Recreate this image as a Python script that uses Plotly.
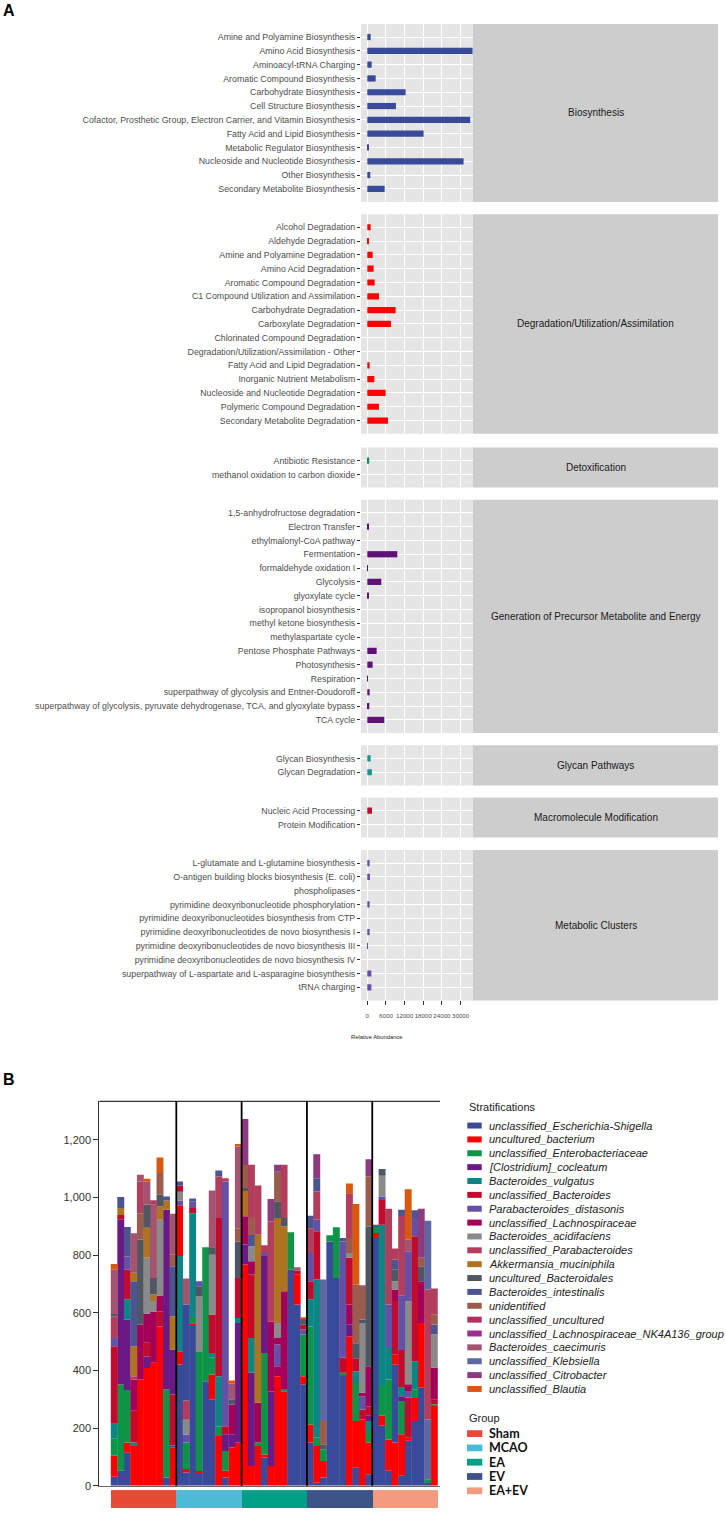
import plotly.graph_objects as go

W, H = 726, 1518


def fx(px):
    return px / W


def fy(py):
    return 1 - py / H


# ---------------- Panel A data ----------------
bio_names = ["Amine and Polyamine Biosynthesis", "Amino Acid Biosynthesis", "Aminoacyl-tRNA Charging",
             "Aromatic Compound Biosynthesis", "Carbohydrate Biosynthesis", "Cell Structure Biosynthesis",
             "Cofactor, Prosthetic Group, Electron Carrier, and Vitamin Biosynthesis",
             "Fatty Acid and Lipid Biosynthesis", "Metabolic Regulator Biosynthesis",
             "Nucleoside and Nucleotide Biosynthesis", "Other Biosynthesis", "Secondary Metabolite Biosynthesis"]
bio_vals = [1070, 33850, 1400, 2680, 12320, 9210, 33100, 18100, 540, 30960, 960, 5570]

deg_names = ["Alcohol Degradation", "Aldehyde Degradation", "Amine and Polyamine Degradation",
             "Amino Acid Degradation", "Aromatic Compound Degradation", "C1 Compound Utilization and Assimilation",
             "Carbohydrate Degradation", "Carboxylate Degradation", "Chlorinated Compound Degradation",
             "Degradation/Utilization/Assimilation - Other", "Fatty Acid and Lipid Degradation",
             "Inorganic Nutrient Metabolism", "Nucleoside and Nucleotide Degradation",
             "Polymeric Compound Degradation", "Secondary Metabolite Degradation"]
deg_vals = [1070, 320, 1710, 2030, 2360, 3750, 9100, 7600, 0, 0, 750, 2250, 5890, 3750, 6640]

detox_names = ["Antibiotic Resistance", "methanol oxidation to carbon dioxide"]
detox_vals = [600, 0]

gen_names = ["1,5-anhydrofructose degradation", "Electron Transfer", "ethylmalonyl-CoA pathway", "Fermentation",
             "formaldehyde oxidation I", "Glycolysis", "glyoxylate cycle", "isopropanol biosynthesis",
             "methyl ketone biosynthesis", "methylaspartate cycle", "Pentose Phosphate Pathways",
             "Photosynthesis", "Respiration", "superpathway of glycolysis and Entner-Doudoroff",
             "superpathway of glycolysis, pyruvate dehydrogenase, TCA, and glyoxylate bypass", "TCA cycle"]
gen_vals = [0, 280, 0, 9640, 100, 4500, 540, 0, 0, 0, 3000, 1710, 220, 750, 640, 5460]

glycan_names = ["Glycan Biosynthesis", "Glycan Degradation"]
glycan_vals = [1070, 1480]

macro_names = ["Nucleic Acid Processing", "Protein Modification"]
macro_vals = [1500, 0]

metab_names = ["L-glutamate and L-glutamine biosynthesis", "O-antigen building blocks biosynthesis (E. coli)",
               "phospholipases", "pyrimidine deoxyribonucleotide phosphorylation",
               "pyrimidine deoxyribonucleotides biosynthesis from CTP",
               "pyrimidine deoxyribonucleotides de novo biosynthesis I",
               "pyrimidine deoxyribonucleotides de novo biosynthesis III",
               "pyrimidine deoxyribonucleotides de novo biosynthesis IV",
               "superpathway of L-aspartate and L-asparagine biosynthesis", "tRNA charging"]
metab_vals = [750, 850, 0, 750, 0, 750, 150, 0, 1300, 1300]

facet_labels = ["Biosynthesis", "Degradation/Utilization/Assimilation", "Detoxification",
                "Generation of Precursor Metabolite and Energy", "Glycan Pathways",
                "Macromolecule Modification", "Metabolic Clusters"]
x_ticks = [0, 6000, 12000, 18000, 24000, 30000]

# ---------------- Panel B data ----------------
species = ["unclassified_Escherichia-Shigella", "uncultured_bacterium", "unclassified_Enterobacteriaceae",
           "[Clostridium]_cocleatum", "Bacteroides_vulgatus", "unclassified_Bacteroides",
           "Parabacteroides_distasonis", "unclassified_Lachnospiraceae", "Bacteroides_acidifaciens",
           "unclassified_Parabacteroides", "Akkermansia_muciniphila", "uncultured_Bacteroidales",
           "Bacteroides_intestinalis", "unidentified", "unclassified_uncultured",
           "unclassified_Lachnospiraceae_NK4A136_group", "Bacteroides_caecimuris", "unclassified_Klebsiella",
           "unclassified_Citrobacter", "unclassified_Blautia"]

groups = ["Sham", "MCAO", "EA", "EV", "EA+EV"]

# each sample: list of (species index, abundance), stacked bottom -> top
sham_samples = [
    [(0, 31), (1, 73), (2, 61), (4, 50), (5, 269), (6, 29), (9, 75), (11, 8), (16, 154), (19, 20)],
    [(0, 52), (2, 300), (3, 571), (5, 17), (10, 24), (12, 38)],
    [(0, 115), (1, 35), (2, 182), (3, 245), (4, 70), (5, 103), (6, 46), (12, 102)],
    [(1, 138), (4, 12), (5, 110), (7, 109), (9, 11), (10, 104), (12, 226), (10, 29), (16, 137)],
    [(1, 369), (7, 191), (11, 294), (13, 92), (9, 110), (16, 23)],
    [(1, 409), (3, 40), (5, 47), (7, 102), (8, 193), (10, 104), (11, 80), (16, 80), (19, 10)],
    [(1, 427), (7, 178), (8, 36), (10, 23), (11, 57), (16, 254), (9, 16)],
    [(1, 553), (5, 52), (7, 55), (8, 263), (10, 46), (11, 41), (13, 75), (19, 54)],
    [(0, 29), (2, 305), (3, 624), (10, 32), (12, 14)],
    [(1, 132), (0, 8), (5, 177), (3, 156), (10, 115), (12, 174), (13, 40), (16, 142)],
]
mcao_samples = [
    [(0, 421), (1, 46), (4, 330), (1, 176), (6, 17), (8, 30), (5, 22), (12, 14)],
    [(0, 46), (1, 12), (2, 92), (6, 28), (8, 51), (9, 67), (0, 333), (16, 90)],
    [(0, 558), (1, 5), (2, 23), (4, 360), (5, 18), (6, 23), (12, 10)],
    [(0, 46), (1, 5), (2, 416), (8, 190), (11, 35), (6, 18)],
    [(0, 363), (2, 465)],
    [(0, 300), (1, 86), (2, 58), (4, 17), (5, 133), (8, 208), (11, 23), (16, 200)],
    [(1, 173), (2, 34), (4, 173), (5, 549), (9, 144), (12, 21)],
    [(0, 29), (1, 23), (2, 69), (3, 58), (5, 28), (6, 849), (9, 11)],
    [(1, 133), (3, 46), (7, 103), (11, 18), (16, 54), (19, 11)],
    [(1, 150), (3, 415), (4, 17), (5, 139), (11, 127), (13, 46), (16, 283), (19, 9)],
]
ea_samples = [
    [(1, 768), (3, 69), (7, 98), (10, 88), (11, 10), (13, 80), (18, 160)],
    [(1, 69), (3, 323), (4, 121), (5, 220), (7, 46), (8, 52), (12, 39), (13, 59), (9, 185)],
    [(1, 138), (2, 12), (7, 138), (10, 583), (9, 171)],
    [(0, 98), (1, 11), (2, 352), (3, 336), (6, 11), (9, 27)],
    [(1, 69), (3, 258), (7, 243), (9, 347), (18, 78)],
    [(1, 380), (7, 35), (6, 75), (7, 23), (8, 52), (10, 364), (11, 58), (13, 103), (18, 24)],
    [(1, 328), (2, 6), (7, 341), (10, 225), (11, 29), (9, 185)],
    [(0, 750), (2, 130)],
    [(0, 629), (1, 105), (5, 12), (16, 12)],
    [(0, 352), (1, 28), (2, 144), (6, 18), (5, 17), (11, 21), (19, 5)],
]
ev_samples = [
    [(0, 150), (1, 63), (2, 340), (4, 94), (5, 63), (6, 98), (9, 86), (12, 43)],
    [(0, 11), (1, 127), (2, 29), (4, 549), (5, 167), (6, 40), (9, 98), (12, 46), (18, 83)],
    [(0, 29), (1, 57), (2, 41), (11, 17), (13, 81), (17, 491)],
    [(0, 848), (2, 21)],
    [(0, 721), (2, 176)],
    [(0, 386), (2, 6), (5, 52), (6, 404), (12, 12)],
    [(1, 519), (3, 40), (7, 70), (5, 162), (8, 17), (13, 52), (9, 155), (19, 34)],
    [(0, 63), (1, 162), (2, 132), (4, 40), (5, 46), (11, 52), (13, 203), (19, 280)],
    [(1, 230), (5, 35), (6, 46), (7, 12), (8, 242), (11, 12), (13, 113), (16, 6)],
    [(0, 40), (1, 110), (2, 40), (4, 35), (3, 20), (5, 30), (7, 140), (11, 485), (13, 173), (18, 60)],
]
eaev_samples = [
    [(0, 860), (1, 17), (2, 23), (12, 6)],
    [(0, 208), (1, 35), (2, 103), (4, 560), (5, 86), (6, 12), (8, 72), (11, 23)],
    [(0, 52), (1, 109), (2, 208), (4, 109), (6, 151), (9, 332)],
    [(1, 150), (0, 270), (1, 35), (5, 186), (7, 40), (8, 29), (11, 40), (12, 35), (9, 38)],
    [(0, 35), (1, 144), (2, 115), (3, 17), (4, 29), (5, 131), (6, 190), (9, 275), (12, 22)],
    [(0, 156), (1, 11), (5, 139), (6, 23), (7, 23), (8, 288), (6, 174), (16, 40), (19, 175)],
    [(0, 225), (1, 80), (2, 30), (4, 97), (5, 434), (6, 63), (12, 27)],
    [(0, 340), (1, 225), (7, 145), (11, 52), (13, 29), (18, 170)],
    [(0, 10), (2, 13), (17, 207), (9, 451), (17, 239)],
    [(1, 277), (2, 6), (5, 17), (7, 110), (8, 115), (12, 35), (13, 35), (9, 90)],
]
y_ticks_b = [0, 200, 400, 600, 800, 1000, 1200]

# ---------------- styles ----------------
species_colors = ["#3A4A9B", "#FF0000", "#0E9447", "#6A1A84", "#0D8585", "#C20A2C", "#6450A6", "#A4005A",
                  "#8A8A8A", "#B23D5C", "#AD7320", "#4F5862", "#4D5590", "#9B5B4D", "#B2315F", "#9A2F8F",
                  "#A45370", "#5F67A0", "#8B3B7E", "#D8580F"]
group_colors = ["#E64B35", "#4DBBD5", "#00A087", "#3C5488", "#F39B7F"]
facet_colors = ["#3A4A9B", "#FF0000", "#0E9447", "#5E1278", "#179595", "#C20A2C", "#6450A6"]
panel_tops = [24.0, 215.0, 449.3, 501.7, 748.3, 800.7, 853.3]
ROW = 13.86
PAD = 0.95
FONT = "Liberation Sans, Arial, sans-serif"

fig = go.Figure()
shapes = []
annotations = []
layout = {}

panelA = [(bio_names, bio_vals), (deg_names, deg_vals), (detox_names, detox_vals), (gen_names, gen_vals),
          (glycan_names, glycan_vals), (macro_names, macro_vals), (metab_names, metab_vals)]

for i, (names, vals) in enumerate(panelA, start=1):
    n = len(names)
    top = panel_tops[i - 1]
    bottom = top + (n - 1 + 2 * PAD) * ROW
    xa = "x" if i == 1 else f"x{i}"
    ya = "y" if i == 1 else f"y{i}"
    xk = "xaxis" if i == 1 else f"xaxis{i}"
    yk = "yaxis" if i == 1 else f"yaxis{i}"
    fig.add_trace(go.Bar(x=vals, y=names, orientation="h", width=0.45,
                         marker=dict(color=facet_colors[i - 1], line=dict(width=0)),
                         xaxis=xa, yaxis=ya, showlegend=False))
    last = (i == len(panelA))
    layout[xk] = dict(domain=[fx(361), fx(473)], range=[-2030, 33990], anchor=ya,
                      tickvals=x_ticks, ticktext=[str(t) for t in x_ticks], tickangle=0,
                      showgrid=True, gridcolor="white", gridwidth=1.3, zeroline=False,
                      showticklabels=last, ticks="outside" if last else "", ticklen=4,
                      tickcolor="#333333", tickwidth=1, ticklabelstandoff=5,
                      tickfont=dict(size=6.2, color="#4D4D4D", family=FONT), fixedrange=True)
    layout[yk] = dict(domain=[fy(bottom), fy(top)], anchor=xa, type="category",
                      categoryorder="array", categoryarray=names, range=[n - 1 + PAD, -PAD],
                      showgrid=True, gridcolor="white", gridwidth=1.3, zeroline=False,
                      ticks="outside", ticklen=3, tickcolor="#333333", tickwidth=1,
                      tickfont=dict(size=8.8, color="#4D4D4D", family=FONT), fixedrange=True)
    shapes.append(dict(type="rect", xref=f"{xa} domain", yref=f"{ya} domain", x0=0, x1=1, y0=0, y1=1,
                       fillcolor="#E5E5E5", line=dict(width=0), layer="below"))
    shapes.append(dict(type="rect", xref="paper", yref=f"{ya} domain", x0=fx(473), x1=fx(718), y0=0, y1=1,
                       fillcolor="#CDCDCD", line=dict(width=0), layer="below"))
    annotations.append(dict(text=facet_labels[i - 1], xref="paper", yref=f"{ya} domain",
                            x=fx(595.5), y=0.5, showarrow=False, xanchor="center", yanchor="middle",
                            font=dict(size=10, color="#1A1A1A", family=FONT)))

annotations.append(dict(text="Relative Abundance", xref="paper", yref="paper", x=fx(377.5), y=fy(1041),
                        showarrow=False, xanchor="center", yanchor="middle",
                        font=dict(size=5.8, color="#222222", family=FONT)))

# ---------------- Panel B ----------------
all_samples = [sham_samples, mcao_samples, ea_samples, ev_samples, eaev_samples]
positions = []
sample_groups = []
seg_list = []
pos = 1
for g, samp in enumerate(all_samples):
    for s in samp:
        positions.append(pos)
        sample_groups.append(g)
        seg_list.append(s)
        pos += 1

max_layers = max(len(s) for s in seg_list)
for k in range(max_layers):
    xs, ys, bases, cols, names = [], [], [], [], []
    for p, s in zip(positions, seg_list):
        if len(s) > k:
            sp, v = s[k]
            xs.append(p)
            ys.append(v)
            bases.append(sum(val for _, val in s[:k]))
            cols.append(species_colors[sp])
            names.append(species[sp])
    fig.add_trace(go.Bar(x=xs, y=ys, base=bases, width=1.06, xaxis="x8", yaxis="y8",
                         marker=dict(color=cols, line=dict(width=0)), hovertext=names,
                         showlegend=False))

# group annotation strip (heatmap on its own small axis)
cs = []
for g, c in enumerate(group_colors):
    cs.append([g / len(group_colors), c])
    cs.append([(g + 1) / len(group_colors), c])
fig.add_trace(go.Heatmap(z=[sample_groups], x=positions, y=[0.5], xaxis="x8", yaxis="y9",
                         colorscale=cs, zmin=-0.5, zmax=len(groups) - 0.5, showscale=False,
                         text=[[groups[g] for g in sample_groups]], hoverinfo="text"))

layout["xaxis8"] = dict(domain=[fx(99.3), fx(440)], range=[-1.29, 50.87], anchor="y8",
                        showticklabels=False, ticks="", showgrid=False, zeroline=False,
                        showline=True, linecolor="#666666", linewidth=1, fixedrange=True)
layout["yaxis8"] = dict(domain=[fy(1491.7), fy(1105.7)], range=[0, 1334], anchor="x8",
                        tickvals=y_ticks_b, tickformat=",", ticks="outside", ticklen=5,
                        tickcolor="#333333", tickwidth=1, showgrid=False, zeroline=False,
                        showline=True, linecolor="#333333", linewidth=1.2,
                        tickfont=dict(size=11, color="#333333", family=FONT), fixedrange=True)
layout["yaxis9"] = dict(domain=[fy(1514.3), fy(1496)], range=[0, 1], anchor="x8", visible=False,
                        fixedrange=True)

shapes.append(dict(type="line", xref="x8 domain", yref="y8 domain", x0=0, x1=1, y0=1, y1=1,
                   line=dict(color="#333333", width=1.2)))
group_sizes = [len(s) for s in all_samples]
edge = 0.5
for gs in group_sizes[:-1]:
    edge += gs
    shapes.append(dict(type="line", xref="x8", yref="y8 domain", x0=edge, x1=edge, y0=0, y1=1,
                       line=dict(color="#000000", width=1.8)))

# Stratifications legend
annotations.append(dict(text="Stratifications", xref="paper", yref="paper", x=fx(466.5), y=fy(1111),
                        showarrow=False, xanchor="left", yanchor="middle",
                        font=dict(size=11, color="#222222", family=FONT)))
for i, name in enumerate(species):
    yc = 1130 + i * 13.92
    shapes.append(dict(type="rect", xref="paper", yref="paper", x0=fx(467.3), x1=fx(481.7),
                       y0=fy(yc + 3), y1=fy(yc - 3), fillcolor=species_colors[i], line=dict(width=0)))
    annotations.append(dict(text=f"<i>{name}</i>", xref="paper", yref="paper", x=fx(486.5), y=fy(yc),
                            showarrow=False, xanchor="left", yanchor="middle",
                            font=dict(size=11, color="#222222", family=FONT)))

# Group legend
annotations.append(dict(text="Group", xref="paper", yref="paper", x=fx(466.8), y=fy(1424),
                        showarrow=False, xanchor="left", yanchor="middle",
                        font=dict(size=11, color="#222222", family=FONT)))
for i, gname in enumerate(groups):
    yc = 1439.3 + i * 14.35
    shapes.append(dict(type="rect", xref="paper", yref="paper", x0=fx(467), x1=fx(482.3),
                       y0=fy(yc + 3.4), y1=fy(yc - 3.4), fillcolor=group_colors[i], line=dict(width=0)))
    annotations.append(dict(text=f"<b>{gname}</b>", xref="paper", yref="paper", x=fx(486.5), y=fy(yc),
                            showarrow=False, xanchor="left", yanchor="middle",
                            font=dict(size=12.5, color="#111111", family="Lato, Open Sans, sans-serif")))

# panel letters
annotations.append(dict(text="<b>A</b>", xref="paper", yref="paper", x=fx(0.5), y=fy(10.5), showarrow=False,
                        xanchor="left", yanchor="middle", font=dict(size=16, color="#000000", family=FONT)))
annotations.append(dict(text="<b>B</b>", xref="paper", yref="paper", x=fx(0.5), y=fy(1084), showarrow=False,
                        xanchor="left", yanchor="middle", font=dict(size=16, color="#000000", family=FONT)))

fig.update_layout(width=W, height=H, autosize=False, margin=dict(l=0, r=0, t=0, b=0),
                  paper_bgcolor="white", plot_bgcolor="white", barmode="overlay", showlegend=False,
                  font=dict(family=FONT), shapes=shapes, annotations=annotations, **layout)

fig.write_html("out.html", config={"displayModeBar": False},
               post_script="document.body.style.margin='0px';document.body.style.padding='0px';")
